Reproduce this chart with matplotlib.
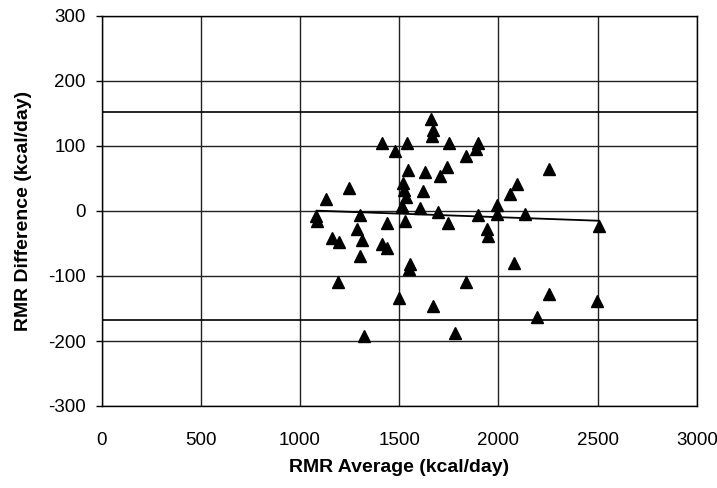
import matplotlib
matplotlib.use("Agg")
import matplotlib.pyplot as plt

plt.rcParams['font.family'] = ['Liberation Sans', 'DejaVu Sans']
plt.rcParams['axes.unicode_minus'] = False

rmr_avg = [1080, 1088, 1129, 1163, 1198, 1193, 1248, 1289, 1302, 1311, 1302, 1322,
           1415, 1412, 1440, 1440, 1477, 1497, 1512, 1520, 1525, 1534, 1530, 1537,
           1546, 1555, 1550, 1604, 1621, 1628, 1658, 1663, 1672, 1672, 1697, 1705,
           1739, 1747, 1752, 1781, 1836, 1836, 1887, 1898, 1898, 1940, 1949, 1994,
           1994, 2058, 2078, 2092, 2133, 2195, 2253, 2253, 2495, 2506]
rmr_diff = [-8, -15, 18, -41, -47, -110, 36, -27, -6, -44, -70, -193,
            105, -51, -57, -18, 93, -134, 8, 43, 33, 22, -16, 104,
            63, -82, -90, 4, 30, 60, 141, 115, 125, -146, -1, 54,
            67, -18, 105, -187, 84, -110, 95, 105, -6, -28, -39, 9,
            -5, 26, -80, 41, -5, -163, 65, -128, -138, -23]

trend_x = [1084, 2506]
trend_y = [0.5, -15]

upper_loa = 153
lower_loa = -168

x_ticks = [0, 500, 1000, 1500, 2000, 2500, 3000]
y_ticks = [-300, -200, -100, 0, 100, 200, 300]

fig = plt.figure(figsize=(7.17, 4.88), dpi=100)
ax = fig.add_axes([101.5 / 717, 1 - 406 / 488, (697 - 101.5) / 717, (406 - 16) / 488])

ax.set_xlim(0, 3000)
ax.set_ylim(-300, 300)
ax.set_xticks(x_ticks)
ax.set_yticks(y_ticks)
ax.grid(True, color='#222222', linewidth=1.0)
ax.set_axisbelow(True)

ax.axhline(upper_loa, color='black', linewidth=1.2, zorder=2)
ax.axhline(lower_loa, color='black', linewidth=1.2, zorder=2)

ax.plot(trend_x, trend_y, color='black', linewidth=1.3, zorder=3)
ax.plot(rmr_avg, rmr_diff, linestyle='none', marker='^', markersize=8,
        color='black', markeredgecolor='black', zorder=4)

for s in ax.spines.values():
    s.set_color('black')
    s.set_linewidth(1.0)

ax.tick_params(axis='y', direction='out', length=4.5, width=1, pad=7, labelsize=13.5)
ax.tick_params(axis='x', length=0, pad=19, labelsize=13.5)

ax.set_xlabel('RMR Average (kcal/day)', fontsize=14, fontweight='bold', labelpad=7)
ax.set_ylabel('RMR Difference (kcal/day)', fontsize=14, fontweight='bold', labelpad=11)

fig.savefig('out.png', dpi=100)
